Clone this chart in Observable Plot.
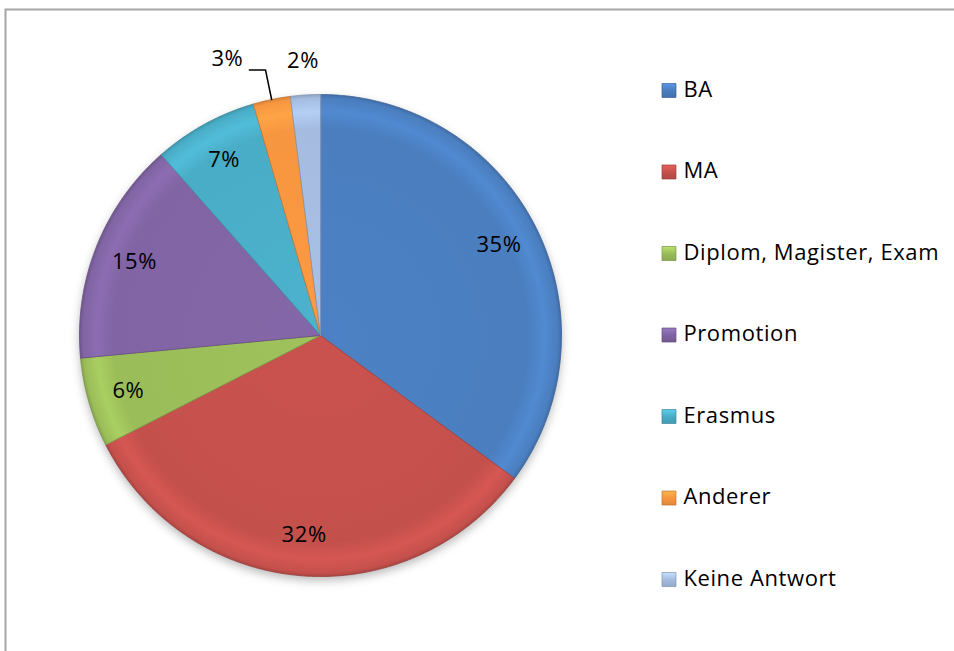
<!DOCTYPE html>
<html><head><meta charset="utf-8">
<script src="https://cdn.jsdelivr.net/npm/d3@7"></script>
<script src="https://cdn.jsdelivr.net/npm/@observablehq/plot@0.6"></script>
<style>body{margin:0;background:#fff}</style>
</head><body><div id="chart"></div>
<script>
const categories = ["BA", "MA", "Diplom, Magister, Exam", "Promotion", "Erasmus", "Anderer", "Keine Antwort"];
const values = [35.1, 32.4, 6.0, 15.0, 7.0, 2.5, 2.0];
const labels = ["35%", "32%", "6%", "15%", "7%", "3%", "2%"];
const colors = ["#4a7ebf", "#c4504c", "#9bbd59", "#8064a3", "#4aadc7", "#f79640", "#a5bce0"];

const arcs = d3.pie().sort(null).value(d => d)(values);
const slicePoints = arcs.flatMap((a, i) => {
  const n = Math.max(4, Math.ceil((a.endAngle - a.startAngle) / (Math.PI / 360)));
  const pts = [{key: i, x: 0, y: 0}];
  for (let k = 0; k <= n; k++) {
    const t = a.startAngle + (a.endAngle - a.startAngle) * k / n;
    pts.push({key: i, x: Math.sin(t), y: Math.cos(t)});
  }
  return pts;
});
const rimPoints = slicePoints.filter(d => d.x !== 0 || d.y !== 0);
const mid = a => (a.startAngle + a.endAngle) / 2;
const inside = arcs.map((a, i) => ({i, a})).filter(d => values[d.i] >= 5);
const labelData = inside.map(({i, a}) => ({text: labels[i], x: 0.83 * Math.sin(mid(a)), y: 0.83 * Math.cos(mid(a))}));
const keine = arcs[6], anderer = arcs[5];
const outLabel2 = [{text: labels[6], x: 1.15 * Math.sin(mid(keine)), y: 1.14 * Math.cos(mid(keine))}];
const elbow = {x: 1.125 * Math.sin(mid(anderer)), y: 1.125 * Math.cos(mid(anderer))};
const leader = [
  {x: Math.sin(mid(anderer)), y: Math.cos(mid(anderer))},
  elbow,
  {x: elbow.x - 0.067, y: elbow.y}
];
const outLabel3 = [{text: labels[5], x: elbow.x - 0.092, y: elbow.y + 0.045}];

const darker = c => d3.color(c).darker(0.7).formatHex();
const LX = 1.446, LTX = 1.506, LY0 = 1.0166, LTY0 = 1.0207, LSTEP = 0.3382;
const FS = 22;

const sliceMarks = colors.map((c, i) =>
  Plot.line(slicePoints.filter(d => d.key === i), {x: "x", y: "y", fill: `url(#grad${i})`, stroke: darker(c), strokeWidth: 0.8, curve: "linear-closed", className: "slice"})
);

const chart = Plot.plot({
  width: 954, height: 651, margin: 0,
  x: {domain: [-1, 1], range: [79, 561], axis: null},
  y: {domain: [-1, 1], range: [576, 94], axis: null},
  color: {type: "identity"},
  style: {fontFamily: "Open Sans", background: "white"},
  marks: [
    Plot.frame({stroke: "#a6a6a6", strokeWidth: 2, insetLeft: 5, insetTop: 9, insetRight: -5, insetBottom: -5}),
    Plot.line(rimPoints, {x: "x", y: "y", fill: "#000", fillOpacity: 0.28, stroke: "none", dy: 4, curve: "linear-closed", className: "pieshadow"}),
    ...sliceMarks,
    Plot.text(labelData, {x: "x", y: "y", text: "text", fontSize: FS, fill: "black", fontFamily: "Open Sans"}),
    Plot.text(outLabel2, {x: "x", y: "y", text: "text", fontSize: FS, fill: "black", fontFamily: "Open Sans"}),
    Plot.text(outLabel3, {x: "x", y: "y", text: "text", fontSize: FS, fill: "black", textAnchor: "end", fontFamily: "Open Sans"}),
    Plot.line(leader, {x: "x", y: "y", stroke: "black", strokeWidth: 1.5}),
    Plot.dot(categories, {x: () => LX, y: (d, i) => LY0 - i * LSTEP, symbol: "square", r: 7.9, fill: (d, i) => `url(#lg${i})`, stroke: (d, i) => darker(colors[i]), strokeWidth: 0.7}),
    Plot.text(categories, {x: () => LTX, y: (d, i) => LTY0 - i * LSTEP, text: d => d, textAnchor: "start", fontSize: FS, fill: "black", fontFamily: "Open Sans"})
  ]
});

const sx = chart.scale("x"), sy = chart.scale("y");
const cx = sx.apply(0), cy = sy.apply(0), rr = sx.apply(1) - sx.apply(0);
const svg = d3.select(chart);
const defs = svg.insert("defs", ":first-child");
colors.forEach((c, i) => {
  const g = defs.append("radialGradient").attr("id", `grad${i}`).attr("gradientUnits", "userSpaceOnUse")
    .attr("cx", cx).attr("cy", cy).attr("r", rr);
  const base = d3.color(c);
  [[0, base.brighter(0.08)], [0.86, base], [0.93, base.brighter(0.25)], [0.985, base], [1, base.darker(0.4)]]
    .forEach(([o, col]) => g.append("stop").attr("offset", o).attr("stop-color", col.formatHex()));
  const l = defs.append("linearGradient").attr("id", `lg${i}`).attr("x1", 0).attr("y1", 0).attr("x2", 0).attr("y2", 1);
  [[0, base.brighter(0.5)], [0.5, base], [1, base.darker(0.3)]]
    .forEach(([o, col]) => l.append("stop").attr("offset", o).attr("stop-color", col.formatHex()));
});
svg.selectAll(".pieshadow path").style("filter", "blur(5px)");
svg.selectAll("text").attr("letter-spacing", "0.6px");

document.getElementById("chart").appendChild(chart);
</script>
</body></html>
